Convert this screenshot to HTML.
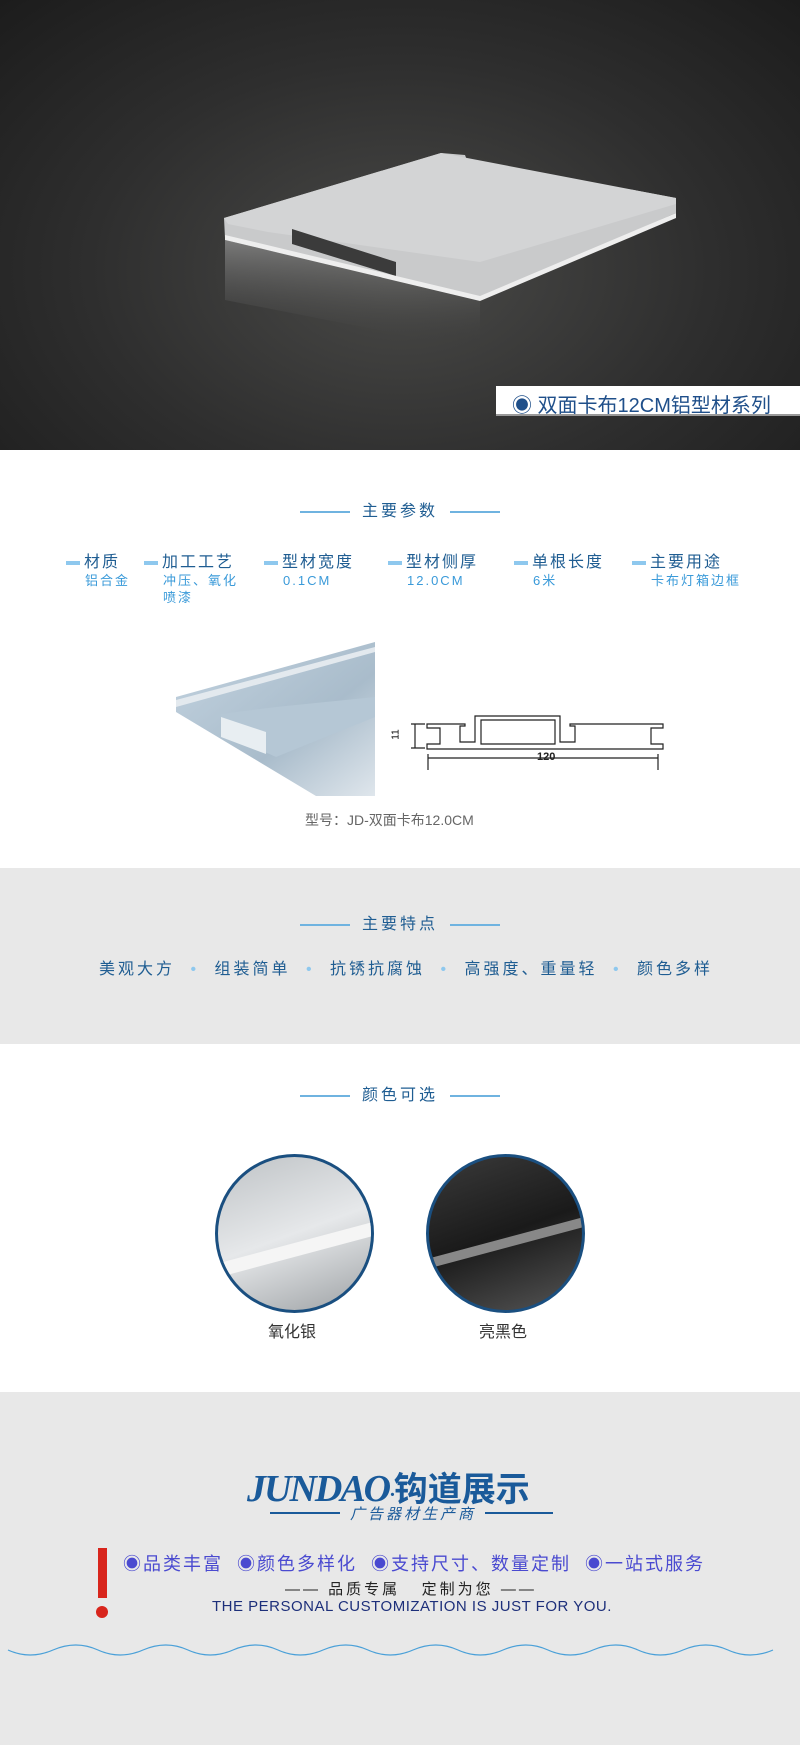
<!DOCTYPE html>
<html><head><meta charset="utf-8"><style>
*{margin:0;padding:0;box-sizing:border-box}
body{width:800px;height:1745px;position:relative;font-family:"Liberation Sans","Noto Sans CJK SC",sans-serif;background:#fff;overflow:hidden}
.a{position:absolute;white-space:nowrap}
.h{position:absolute;left:0;width:800px;text-align:center;font-size:16px;color:#1f5d92;letter-spacing:3px}
.h span.l{display:inline-block;width:50px;height:2px;background:#6fb3e0;vertical-align:middle;margin:0 12px}
.pt{color:#1f5d92;font-size:16px;letter-spacing:2px}
.pt:before{content:"";display:inline-block;width:14px;height:4px;background:#8ec8ee;vertical-align:middle;margin-right:4px}
.pv{color:#3a9ad9;font-size:13px;letter-spacing:2px;line-height:17px}
</style></head><body>
<div class="a" style="left:0;top:0;width:800px;height:450px;background:radial-gradient(ellipse at 50% 60%,#4a4a48 0%,#2e2e2e 55%,#1c1c1c 100%)"></div>
<svg class="a" style="left:0;top:0" width="800" height="450">
<defs><linearGradient id="rf" x1="0" y1="0" x2="0" y2="1"><stop offset="0" stop-color="#bbb" stop-opacity=".5"/><stop offset="1" stop-color="#333" stop-opacity="0"/></linearGradient></defs>
<polygon points="225,240 480,300 480,350 225,300" fill="url(#rf)"/>
<polygon points="224,218 441,153 465,155 470,168 634,190 676,198 676,213 480,298 225,238" fill="#c9cacb"/>
<polygon points="224,218 441,153 634,190 676,198 676,204 480,262 268,232 228,224" fill="#d3d4d5"/>
<polygon points="292,229 396,262 396,276 292,244" fill="#3b3b3b"/>
<polygon points="225,235 480,296 676,213 676,218 480,301 225,240" fill="#eeeeee"/>
</svg>
<div class="a" style="left:496px;top:386px;width:304px;height:30px;background:#fff;border-bottom:2px solid #999"></div>
<div class="a" style="left:512px;top:389px;font-size:20px;color:#1f4f8a">◉ 双面卡布12CM铝型材系列</div>

<div class="h" style="top:497px"><span class="l"></span>主要参数<span class="l"></span></div>

<div class="a" style="left:66px;top:548px"><div class="pt">材质</div><div class="pv" style="margin-left:19px">铝合金</div></div>
<div class="a" style="left:144px;top:548px"><div class="pt">加工工艺</div><div class="pv" style="margin-left:19px">冲压、氧化<br>喷漆</div></div>
<div class="a" style="left:264px;top:548px"><div class="pt">型材宽度</div><div class="pv" style="margin-left:19px">0.1CM</div></div>
<div class="a" style="left:388px;top:548px"><div class="pt">型材侧厚</div><div class="pv" style="margin-left:19px">12.0CM</div></div>
<div class="a" style="left:514px;top:548px"><div class="pt">单根长度</div><div class="pv" style="margin-left:19px">6米</div></div>
<div class="a" style="left:632px;top:548px"><div class="pt">主要用途</div><div class="pv" style="margin-left:19px">卡布灯箱边框</div></div>

<svg class="a" style="left:176px;top:642px" width="200" height="154">
<defs><linearGradient id="g" x1="0" y1="0" x2="1" y2="1"><stop offset="0" stop-color="#c3d3e0"/><stop offset=".6" stop-color="#a9bccb"/><stop offset="1" stop-color="#dfe6ec"/></linearGradient></defs>
<polygon points="0,55 199,0 199,154 140,154 0,70" fill="url(#g)"/>
<polygon points="45,72 100,65 199,55 199,75 100,115 45,90" fill="#b5c7d5"/>
<polygon points="45,75 90,90 90,112 45,95" fill="#e8eef2"/>
<polygon points="0,58 199,5 199,10 0,65" fill="#e3e9ee"/>
</svg>
<svg class="a" style="left:405px;top:712px" width="270" height="60" fill="none" stroke="#222" stroke-width="1.2">
<path d="M22,12 H60 V14 H55 V30 H70 V4 H155 V30 H170 V14 H165 V12 H258 V16 H246 V32 H258 V37 H22 V32 H35 V16 H22 Z"/>
<path d="M76,8 H150 V32 H76 Z"/>
<path d="M10,12 V36 M6,12 H20 M6,36 H20 M23,42 V58 M253,42 V58 M23,46 H253"/>
</svg>
<div class="a" style="left:391px;top:729px;font-size:10px;transform:rotate(-90deg)">11</div>
<div class="a" style="left:537px;top:751px;font-size:11px;font-weight:bold;color:#222">120</div>
<div class="a" style="left:305px;top:810px;font-size:14px;color:#666">型号：JD-双面卡布12.0CM</div>

<div class="a" style="left:0;top:868px;width:800px;height:176px;background:#e8e8e8"></div>
<div class="h" style="top:910px"><span class="l"></span>主要特点<span class="l"></span></div>
<div class="a" style="left:99px;top:955px;font-size:16px;color:#1f5d92;letter-spacing:3px">美观大方 <span style="color:#8ec8ee;margin:0 8px">•</span> 组装简单 <span style="color:#8ec8ee;margin:0 8px">•</span> 抗锈抗腐蚀 <span style="color:#8ec8ee;margin:0 8px">•</span> 高强度、重量轻 <span style="color:#8ec8ee;margin:0 8px">•</span> 颜色多样</div>

<div class="h" style="top:1081px"><span class="l"></span>颜色可选<span class="l"></span></div>
<div class="a" style="left:215px;top:1154px;width:159px;height:159px;border-radius:50%;border:3px solid #1a4f80;overflow:hidden;background:linear-gradient(160deg,#bfc3c6,#e6e8ea 50%,#9ea2a5)">
<div style="position:absolute;left:0;top:85px;width:160px;height:14px;background:#f5f5f5;transform:skewY(-15deg)"></div></div>
<div class="a" style="left:426px;top:1154px;width:159px;height:159px;border-radius:50%;border:3px solid #1a4f80;overflow:hidden;background:linear-gradient(160deg,#3a3a3a,#1a1a1a 50%,#555)">
<div style="position:absolute;left:0;top:80px;width:160px;height:10px;background:#888;transform:skewY(-15deg)"></div></div>
<div class="a" style="left:268px;top:1318px;font-size:16px;color:#333">氧化银</div>
<div class="a" style="left:479px;top:1318px;font-size:16px;color:#333">亮黑色</div>

<div class="a" style="left:0;top:1392px;width:800px;height:353px;background:#e8e8e8"></div>
<div class="a" style="left:247px;top:1462px;font-size:38px;font-weight:bold;font-style:italic;color:#1a5a9a;font-family:'Liberation Serif',serif;letter-spacing:-2px">JUNDAO<span style="font-size:20px;font-style:normal">·</span><span style="font-family:'Noto Sans CJK SC',sans-serif;font-style:normal;font-size:34px;letter-spacing:0">钩道展示</span></div>
<div class="a" style="left:270px;top:1512px;width:70px;height:2px;background:#1a5a9a"></div>
<div class="a" style="left:485px;top:1512px;width:68px;height:2px;background:#1a5a9a"></div>
<div class="a" style="left:350px;top:1503px;font-size:15px;font-style:italic;color:#1a5a9a;letter-spacing:3px">广告器材生产商</div>
<div class="a" style="left:98px;top:1548px;width:9px;height:50px;background:#d8251c"></div>
<div class="a" style="left:96px;top:1606px;width:12px;height:12px;border-radius:50%;background:#d8251c"></div>
<div class="a" style="left:123px;top:1550px;font-size:18px;color:#4a4ad0;letter-spacing:2px">◉品类丰富 &nbsp;◉颜色多样化 &nbsp;◉支持尺寸、数量定制 &nbsp;◉一站式服务</div>
<div class="a" style="left:285px;top:1578px;font-size:15px;color:#222;letter-spacing:3px">—— 品质专属 &nbsp; 定制为您 ——</div>
<div class="a" style="left:212px;top:1598px;font-size:15px;color:#1d2f7a;letter-spacing:.5px">THE PERSONAL CUSTOMIZATION IS JUST FOR YOU.</div>
<svg class="a" style="left:0;top:1640px" width="800" height="24"><path d="M8,10 q22,10 45,0 t45,0 t45,0 t45,0 t45,0 t45,0 t45,0 t45,0 t45,0 t45,0 t45,0 t45,0 t45,0 t45,0 t45,0 t45,0 t45,0" fill="none" stroke="#4aa0d8" stroke-width="1.2"/></svg>
</body></html>
